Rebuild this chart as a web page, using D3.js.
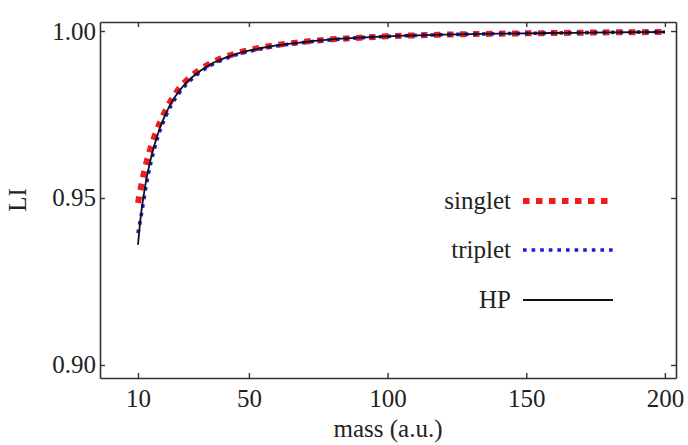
<!DOCTYPE html>
<html>
<head>
<meta charset="utf-8">
<script src="https://cdn.jsdelivr.net/npm/d3@7"></script>
<style>
  body { margin: 0; background: #fff; }
  text { font-family: "Liberation Serif", "DejaVu Serif", serif; fill: #222; }
</style>
</head>
<body>
<div id="chart"></div>
<script>
// values
const mass = [10, 11, 12, 13, 14, 15, 16, 18, 20, 22, 25, 28, 32, 36, 40, 45, 50, 60, 70, 80, 90, 100, 120, 140, 160, 180, 200];
const singlet = [0.9485, 0.953, 0.957, 0.9605, 0.9635, 0.9662, 0.9686, 0.9728, 0.9763, 0.9793, 0.983, 0.9856, 0.9883, 0.9903, 0.9918, 0.9932, 0.9943, 0.9958, 0.9968, 0.9975, 0.998, 0.9984, 0.9989, 0.9992, 0.9994, 0.9996, 0.9997];
const triplet = [0.9395, 0.944, 0.949, 0.954, 0.9582, 0.9618, 0.965, 0.9703, 0.9744, 0.9778, 0.9816, 0.9845, 0.9874, 0.9896, 0.9912, 0.9928, 0.9939, 0.9955, 0.9966, 0.9974, 0.998, 0.9984, 0.9989, 0.9992, 0.9994, 0.9996, 0.9997];
const hp = [0.936, 0.9445, 0.9505, 0.9555, 0.9595, 0.963, 0.966, 0.9712, 0.9752, 0.9785, 0.9822, 0.985, 0.9878, 0.99, 0.9915, 0.993, 0.9941, 0.9957, 0.9967, 0.9975, 0.998, 0.9984, 0.9989, 0.9992, 0.9994, 0.9996, 0.9997];
const xTicks = [10, 50, 100, 150, 200];
const yTicks = [0.9, 0.95, 1.0];
const seriesNames = ["singlet", "triplet", "HP"];

const W = 688, H = 445;
const margin = { top: 22, right: 12, bottom: 67, left: 100 },
  width = W - margin.left - margin.right,
  height = H - margin.top - margin.bottom;

const svg = d3
  .select("#chart")
  .append("svg")
  .attr("width", W)
  .attr("height", H)
  .append("g")
  .attr("transform", `translate(${margin.left},${margin.top})`);

const x = d3.scaleLinear().domain([-3.7, 204]).range([0, width]);
const y = d3.scaleLinear().domain([0.8961, 1.0027]).range([height, 0]);

// series, back to front
const styles = {
  singlet: { color: "#ee1c1c", width: 6, dash: "6.5,6.5" },
  triplet: { color: "#1a1adf", width: 3.6, dash: "3.6,5" },
  HP: { color: "#111", width: 1.8, dash: null },
};
const values = { singlet: singlet, triplet: triplet, HP: hp };

const line = d3
  .line()
  .x((d) => x(d[0]))
  .y((d) => y(d[1]))
  .curve(d3.curveMonotoneX);

seriesNames.forEach(function (name) {
  const s = styles[name];
  svg
    .append("path")
    .datum(mass.map((m, i) => [m, values[name][i]]))
    .attr("fill", "none")
    .attr("stroke", s.color)
    .attr("stroke-width", s.width)
    .attr("stroke-dasharray", s.dash)
    .attr("d", line);
});

// frame with inward ticks on every side
const axisColor = "#333";
const tickLen = 5;
const fmtY = d3.format(".2f");
const serif = '"Liberation Serif", "DejaVu Serif", serif';

const axBottom = svg
  .append("g")
  .attr("transform", `translate(0,${height})`)
  .call(d3.axisBottom(x).tickValues(xTicks).tickSizeInner(-tickLen).tickSizeOuter(0).tickPadding(11));
const axTop = svg
  .append("g")
  .call(d3.axisTop(x).tickValues(xTicks).tickSizeInner(-tickLen).tickSizeOuter(0).tickFormat(""));
const axLeft = svg
  .append("g")
  .call(d3.axisLeft(y).tickValues(yTicks).tickSizeInner(-tickLen).tickSizeOuter(0).tickPadding(4).tickFormat(fmtY));
const axRight = svg
  .append("g")
  .attr("transform", `translate(${width},0)`)
  .call(d3.axisRight(y).tickValues(yTicks).tickSizeInner(-tickLen).tickSizeOuter(0).tickFormat(""));

[axBottom, axTop, axLeft, axRight].forEach(function (g) {
  g.attr("font-family", serif).attr("font-size", 25);
  g.select(".domain").attr("stroke", axisColor).attr("stroke-width", 1.6);
  g.selectAll(".tick line").attr("stroke", axisColor).attr("stroke-width", 1.4);
  g.selectAll(".tick text").style("font-family", serif).style("font-size", "25px").attr("fill", "#222");
});

// axis titles
svg
  .append("text")
  .attr("text-anchor", "middle")
  .attr("x", width / 2)
  .attr("y", height + 59)
  .attr("font-size", 25)
  .text("mass (a.u.)");

svg
  .append("text")
  .attr("text-anchor", "middle")
  .attr("transform", "rotate(-90)")
  .attr("x", -height / 2)
  .attr("y", -74)
  .attr("font-size", 25)
  .text("LI");

// legend
const legendY = [201, 250, 300];
const legend = svg.append("g");
seriesNames.forEach(function (name, i) {
  const s = styles[name];
  const ly = legendY[i] - margin.top;
  legend
    .append("text")
    .attr("text-anchor", "end")
    .attr("x", 511 - margin.left)
    .attr("y", ly + 8)
    .attr("font-size", 25)
    .text(name);
  legend
    .append("line")
    .attr("x1", 523 - margin.left)
    .attr("x2", 613 - margin.left)
    .attr("y1", ly)
    .attr("y2", ly)
    .attr("stroke", s.color)
    .attr("stroke-width", name === "HP" ? 2 : s.width)
    .attr("stroke-dasharray", s.dash);
});
</script>
</body>
</html>
